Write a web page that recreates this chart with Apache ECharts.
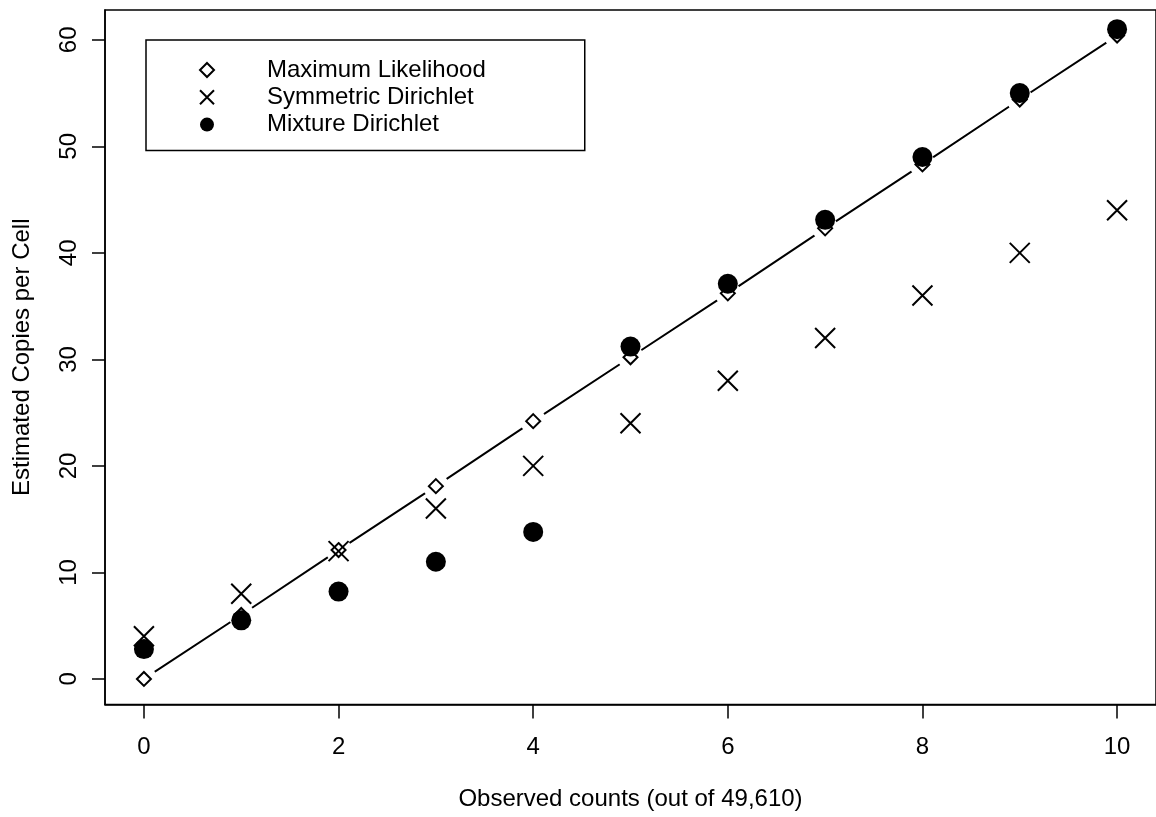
<!doctype html>
<html>
<head>
    <meta charset="utf-8">
    <title>Estimated copies per cell</title>
    <script src="https://cdn.jsdelivr.net/npm/echarts@6/dist/echarts.min.js"></script>
    <style>
        body { margin: 0; background: #fff; }
    </style>
</head>
<body>
<div id="main" style="width:1156px;height:817px;"></div>
<script>
    // observed counts on the x axis
    var counts = [0, 1, 2, 3, 4, 5, 6, 7, 8, 9, 10];
    // estimates per method
    var maxLik = [0, 6.0, 12.1, 18.1, 24.2, 30.2, 36.2, 42.3, 48.3, 54.4, 60.4];
    var symDir = [4, 8, 12, 16, 20, 24, 28, 32, 36, 40, 44];
    var mixDir = [2.8, 5.5, 8.2, 11.0, 13.8, 31.2, 37.1, 43.1, 49.0, 55.0, 61.0];
    var xTicks = [0, 2, 4, 6, 8, 10];
    var yTicks = [0, 10, 20, 30, 40, 50, 60];

    function pairs(ys) {
        return counts.map(function (c, i) {
            return [c, ys[i]];
        });
    }

    var font = 'Liberation Sans, Arial, Helvetica, sans-serif';

    echarts.init(document.getElementById('main')).setOption({
        animation: false,
        backgroundColor: '#fff',
        grid: {
            left: 105,
            top: 10,
            width: 1056,
            height: 694.5,
            show: true,
            borderColor: '#000',
            borderWidth: 1.5
        },
        legend: {
            orient: 'vertical',
            left: 146,
            top: 40,
            data: ['Maximum Likelihood', 'Symmetric Dirichlet', 'Mixture Dirichlet'],
            padding: [18, 99, 14, 53],
            itemGap: 3.3,
            itemWidth: 14,
            itemHeight: 14,
            borderColor: '#000',
            borderWidth: 1.5,
            selectedMode: false,
            textStyle: {
                fontFamily: font,
                fontSize: 24,
                color: '#000',
                padding: [0, 0, 0, 48]
            }
        },
        xAxis: {
            type: 'value',
            min: -0.4,
            max: 10.4,
            name: 'Observed counts (out of 49,610)',
            nameLocation: 'middle',
            nameGap: 83,
            nameTextStyle: { fontFamily: font, fontSize: 24, color: '#000' },
            axisLine: { show: true, onZero: false, lineStyle: { color: '#000', width: 1.5 } },
            axisTick: { show: true, length: 14, lineStyle: { color: '#000', width: 1.5 }, customValues: xTicks },
            axisLabel: { margin: 31, fontFamily: font, fontSize: 24, color: '#000', customValues: xTicks },
            splitLine: { show: false }
        },
        yAxis: {
            type: 'value',
            min: -2.4,
            max: 62.8,
            name: 'Estimated Copies per Cell',
            nameLocation: 'middle',
            nameGap: 71,
            nameTextStyle: { fontFamily: font, fontSize: 24, color: '#000' },
            axisLine: { show: true, onZero: false, lineStyle: { color: '#000', width: 1.5 } },
            axisTick: { show: true, length: 13, lineStyle: { color: '#000', width: 1.5 }, customValues: yTicks },
            axisLabel: { margin: 24, rotate: 90, fontFamily: font, fontSize: 24, color: '#000', customValues: yTicks },
            splitLine: { show: false }
        },
        series: [{
            // joining line of the ML estimates
            name: 'mlLine',
            type: 'line',
            z: 1,
            data: pairs(maxLik),
            showSymbol: false,
            silent: true,
            lineStyle: { color: '#000', width: 2 }
        },
            {
                // white halo so the line breaks around each point
                name: 'gap',
                type: 'scatter',
                z: 2,
                data: pairs(maxLik),
                symbol: 'circle',
                symbolSize: 26,
                silent: true,
                itemStyle: { color: '#fff', opacity: 1 }
            },
            {
                name: 'Maximum Likelihood',
                type: 'scatter',
                z: 3,
                data: pairs(maxLik),
                symbol: 'diamond',
                symbolSize: 14,
                itemStyle: { color: '#fff', borderColor: '#000', borderWidth: 2, opacity: 1 }
            },
            {
                name: 'Symmetric Dirichlet',
                type: 'scatter',
                z: 3,
                data: pairs(symDir),
                symbol: 'path://M0,0L10,10M10,0L0,10',
                symbolSize: 20,
                itemStyle: { color: 'transparent', borderColor: '#000', borderWidth: 2, opacity: 1 }
            },
            {
                name: 'Mixture Dirichlet',
                type: 'scatter',
                z: 3,
                data: pairs(mixDir),
                symbol: 'circle',
                symbolSize: 20,
                itemStyle: { color: '#000', opacity: 1 }
            }
        ]
    });
</script>
</body>
</html>
